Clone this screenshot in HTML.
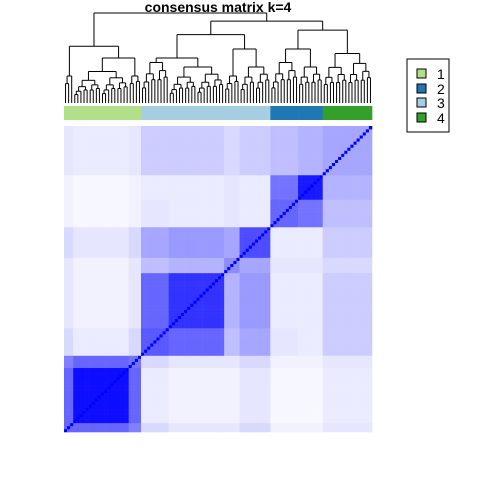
<!DOCTYPE html>
<html><head><meta charset="utf-8"><style>
html,body{margin:0;padding:0;background:#fff;width:480px;height:480px;overflow:hidden}
svg{display:block;font-family:"Liberation Sans",sans-serif}
</style></head><body>
<svg id="chart" width="480" height="480" viewBox="0 0 480 480">
<g id="dendro"></g>
<text x="218" y="12" text-anchor="middle" font-size="14" font-weight="bold">consensus matrix k=4</text>
<g id="anno"></g>
<g id="heat"></g>
<g>
<rect x="407" y="59" width="42" height="73" fill="#fff" stroke="#000" stroke-width="1"/>
<g><rect x="417" y="69" width="9" height="9" fill="#B2DF8A" stroke="#000"/><text x="437" y="79" font-size="14">1</text></g>
<g><rect x="417" y="84" width="9" height="9" fill="#1F78B4" stroke="#000"/><text x="437" y="94" font-size="14">2</text></g>
<g><rect x="417" y="98" width="9" height="9" fill="#A6CEE3" stroke="#000"/><text x="437" y="108" font-size="14">3</text></g>
<g><rect x="417" y="113" width="9" height="9" fill="#33A02C" stroke="#000"/><text x="437" y="123" font-size="14">4</text></g>
</g>
</svg>
<script>
// segment sizes (number of samples per block, in column order)
const segSizes = [3, 18, 4, 9, 18, 5, 10, 9, 8, 16];
// class label of each segment
const segClass = [1, 1, 1, 3, 3, 3, 3, 2, 2, 4];
// block-level consensus values
const blockValues = [
 [0.6,0.6,0.5,0.15,0.1,0.1,0.15,0.05,0.05,0.1],
 [0.6,0.95,0.6,0.08,0.05,0.05,0.1,0.03,0.03,0.08],
 [0.5,0.6,0.55,0.15,0.1,0.1,0.15,0.05,0.05,0.1],
 [0.15,0.08,0.15,0.65,0.6,0.25,0.35,0.1,0.08,0.2],
 [0.1,0.05,0.1,0.6,0.8,0.3,0.4,0.08,0.08,0.2],
 [0.1,0.05,0.1,0.25,0.3,0.45,0.35,0.1,0.1,0.15],
 [0.15,0.1,0.15,0.35,0.4,0.35,0.7,0.08,0.08,0.2],
 [0.05,0.03,0.05,0.1,0.08,0.1,0.08,0.6,0.55,0.25],
 [0.05,0.03,0.05,0.08,0.08,0.1,0.08,0.55,0.9,0.3],
 [0.1,0.08,0.1,0.2,0.2,0.15,0.2,0.25,0.3,0.35]
];
// internal top height of each segment's subtree
const segHeights = [0.3, 0.35, 0.3, 0.45, 0.4, 0.3, 0.4, 0.45, 0.4, 0.55];
// upper tree: [height, left, right]; numbers are segment indices
const upperTree = [1.0, [0.63, 0, [0.5, 1, 2]], [0.91, [0.76, [0.5, 3, 4], [0.6, 5, 6]], [0.81, [0.6, 7, 8], 9]]];
const classColors = {1:"#B2DF8A", 2:"#1F78B4", 3:"#A6CEE3", 4:"#33A02C"};

const NS = "http://www.w3.org/2000/svg";
const X0 = 64, X1 = 372, Y0 = 126, Y1 = 432;
const N = segSizes.reduce((a,b)=>a+b,0);
const cw = (X1-X0)/N, ch = (Y1-Y0)/N;
const segOf = [];
segSizes.forEach((s,i)=>{for(let k=0;k<s;k++) segOf.push(i);});
const segStart = []; {let a=0; segSizes.forEach(s=>{segStart.push(a); a+=s;});}
const xs = i => X0 + i*cw;
const ys = j => Y1 - (j+1)*ch;

const heat = document.getElementById('heat');
for (let i=0;i<N;i++) for (let j=0;j<N;j++) {
  let v = i===j ? 1 : blockValues[segOf[i]][segOf[j]];
  const c = Math.round(255*(1-v));
  const r = document.createElementNS(NS,'rect');
  r.setAttribute('x', xs(i)); r.setAttribute('y', ys(j));
  r.setAttribute('width', cw+0.3); r.setAttribute('height', ch+0.3);
  r.setAttribute('fill', `rgb(${c},${c},255)`);
  
  
  heat.appendChild(r);
}
const anno = document.getElementById('anno');
segSizes.forEach((s,i)=>{
  const r = document.createElementNS(NS,'rect');
  r.setAttribute('x', xs(segStart[i])); r.setAttribute('y', 106);
  r.setAttribute('width', s*cw+0.3); r.setAttribute('height', 14);
  r.setAttribute('fill', classColors[segClass[i]]);
  
  
  anno.appendChild(r);
});

// dendrogram
const dg = document.getElementById('dendro');
const hy = h => 103 - h*90;
function line(x1,y1,x2,y2){
  const l = document.createElementNS(NS,'line');
  l.setAttribute('x1',x1);l.setAttribute('y1',y1);l.setAttribute('x2',x2);l.setAttribute('y2',y2);
  l.setAttribute('stroke','#000');l.setAttribute('stroke-width','1');
  
  
  dg.appendChild(l);
}
function build(lo,hi,h){
  if (hi-lo===1) return {x: xs(lo)+cw/2, h: 0};
  const mid = lo + Math.ceil((hi-lo)/2);
  const a = build(lo,mid,h*0.72), b = build(mid,hi,h*0.8);
  join(a,b,h); return {x:(a.x+b.x)/2, h:h};
}
function join(a,b,h){
  line(a.x,hy(a.h),a.x,hy(h)); line(b.x,hy(b.h),b.x,hy(h)); line(a.x,hy(h),b.x,hy(h));
}
function walk(node){
  if (typeof node === 'number') return build(segStart[node], segStart[node]+segSizes[node], segHeights[node]);
  const a = walk(node[1]), b = walk(node[2]);
  join(a,b,node[0]); return {x:(a.x+b.x)/2, h:node[0]};
}
walk(upperTree);
</script>
</body></html>
